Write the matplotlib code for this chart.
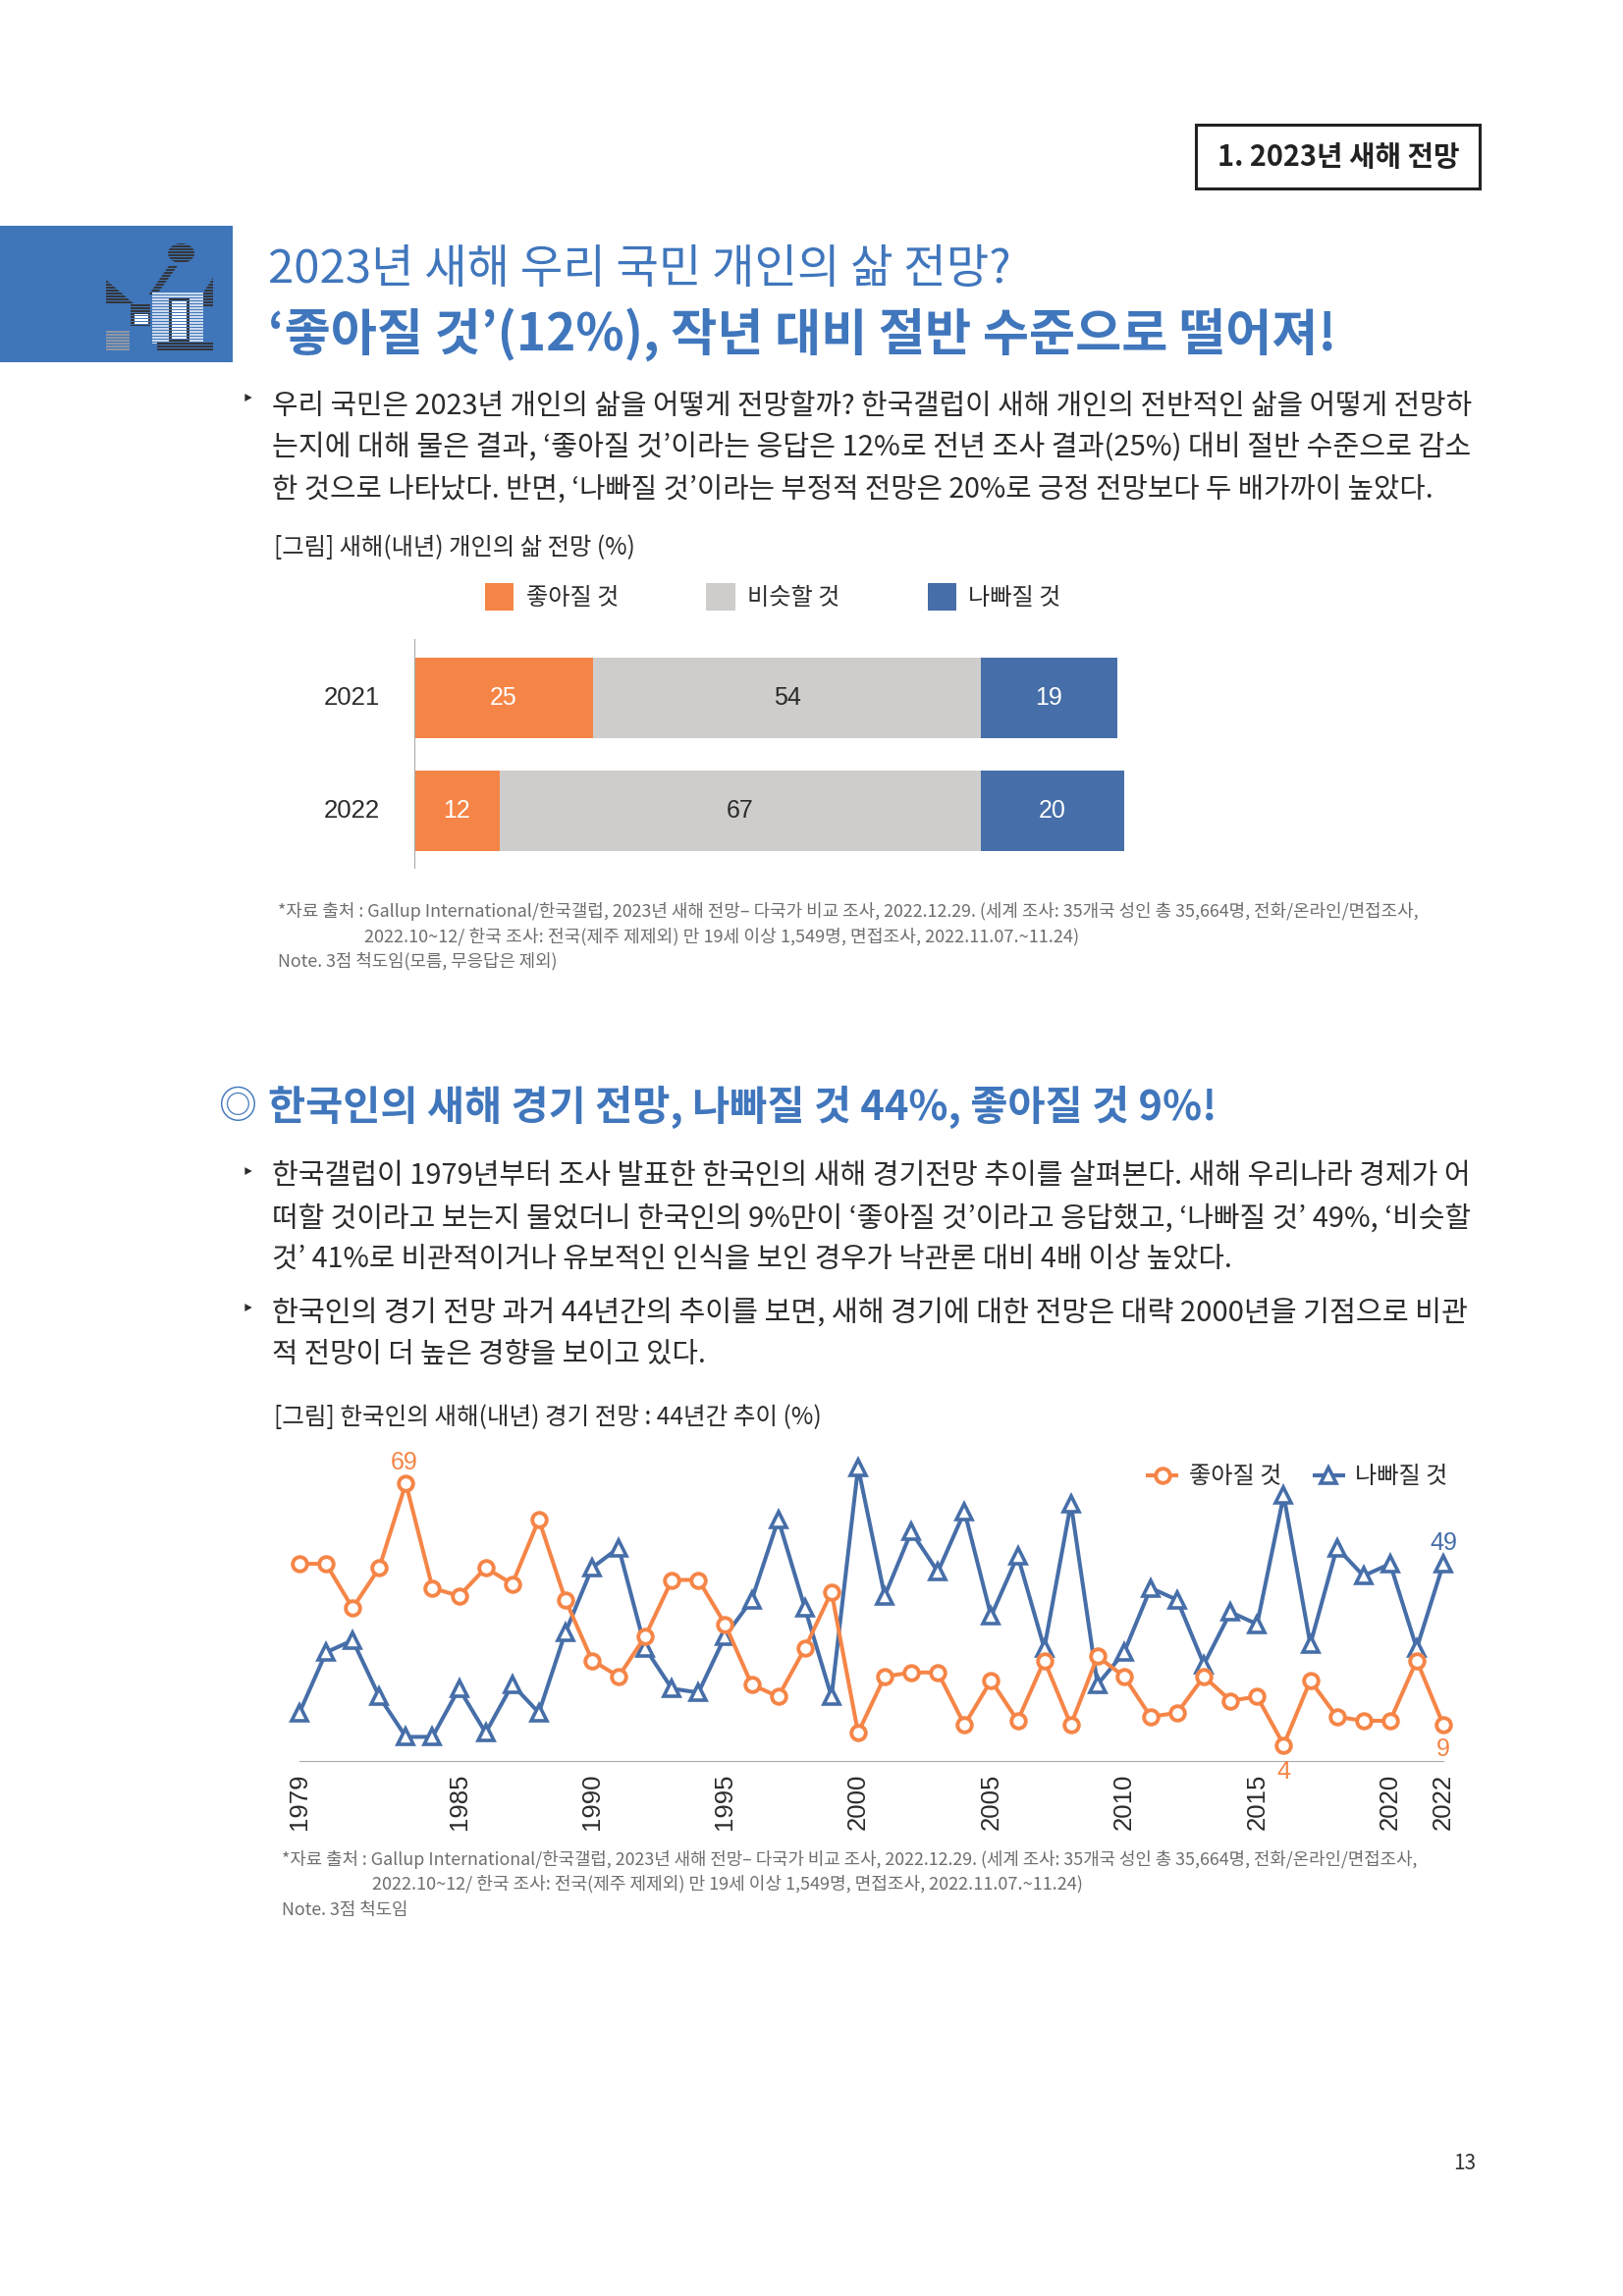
import matplotlib
matplotlib.use("Agg")
import matplotlib.pyplot as plt
from matplotlib.patches import Rectangle, Polygon, Ellipse

plt.rcParams['font.family'] = ['Noto Sans CJK KR', 'DejaVu Sans']

W, H = 1653, 2339

# bar chart data
bar_years = ['2021', '2022']
good = [25, 12]
same = [54, 67]
bad = [19, 20]
bar_labels = ['좋아질 것', '비슷할 것', '나빠질 것']

# line chart data
years = list(range(1979, 2023))
good_line = [49, 49, 38, 48, 69, 43, 41, 48, 44, 60, 40, 25, 21, 31, 45, 45, 34, 19, 16, 28, 42, 7,
             21, 22, 22, 9, 20, 10, 25, 9, 26, 21, 11, 12, 21, 15, 16, 4, 20, 11, 10, 10, 25, 9]
bad_line = [12, 27, 30, 16, 6, 6, 18, 7, 19, 12, 32, 48, 53, 28, 18, 17, 31, 40, 60, 38, 16, 73,
            41, 57, 47, 62, 36, 51, 28, 64, 19, 27, 43, 40, 24, 37, 34, 66, 29, 53, 46, 49, 28, 49]
year_ticks = [1979, 1985, 1990, 1995, 2000, 2005, 2010, 2015, 2020, 2022]

ORANGE = '#F58547'
GRAY = '#CECDCB'
BLUE = '#466EA8'
TITLE = '#4076BC'
TEXT = '#2B2B2B'
NOTE = '#6E6E6E'

fig = plt.figure(figsize=(W / 100, H / 100), dpi=100)
page = fig.add_axes([0, 0, 1, 1])
page.set_xlim(0, W / 0.9975)
page.set_ylim(H, 0)
page.axis('off')
renderer = fig.canvas.get_renderer()


def fit(x0, x1, y, s, color=TEXT, weight='light', size=20):
    # size the line so that it runs from x0 to x1 on the page
    t = page.text(x0, y, s, color=color, fontweight=weight, fontsize=size, va='center', ha='left')
    w = t.get_window_extent(renderer).width
    t.set_fontsize(size * 0.9975 * (x1 - x0) / w)
    return t


def axes_px(left, top, right, bottom):
    return fig.add_axes([left / W, 1 - bottom / H, (right - left) / W, (bottom - top) / H], facecolor='none')


# header
page.add_patch(Rectangle((1221, 127), 290, 65, fc='white', ec='#222222', lw=2.2))
fit(1243, 1490, 160, '1. 2023년 새해 전망', color='#222222', weight='bold')

# blue block with icon
page.add_patch(Rectangle((0, 230), 238, 139, fc='#3F75B9', ec='none'))
dark = '#33363C'
page.add_patch(Ellipse((185, 258), 27, 20, fc=dark, ec='none'))
page.add_patch(Polygon([(173, 270), (182, 270), (160, 300), (152, 300)], fc=dark, ec='none'))
page.add_patch(Polygon([(108, 285), (108, 310), (137, 310)], fc=dark, ec='none'))
page.add_patch(Polygon([(218, 283), (218, 313), (208, 313), (208, 298)], fc=dark, ec='none'))
page.add_patch(Rectangle((155, 298), 53, 52, fc='#C9D9EE', ec='none'))
page.add_patch(Rectangle((172, 303), 21, 45, fc=dark, ec='none'))
page.add_patch(Rectangle((175, 307), 15, 38, fc='white', ec='none'))
page.add_patch(Rectangle((133, 310), 20, 22, fc=dark, ec='none'))
page.add_patch(Rectangle((137, 320), 14, 10, fc='white', ec='none'))
page.add_patch(Rectangle((108, 337), 24, 20, fc='#8F97A5', ec='none'))
page.add_patch(Rectangle((160, 348), 58, 9, fc=dark, ec='none'))
for sy in range(240, 360, 3):
    page.plot([100, 225], [sy, sy], color='#3F75B9', lw=0.7)

# titles
fit(274, 1032, 275, '2023년 새해 우리 국민 개인의 삶 전망?', color=TITLE)
fit(274, 1362, 340.5, '‘좋아질 것’(12%), 작년 대비 절반 수준으로 떨어져!', color=TITLE, weight='bold')

# first paragraph
page.text(253, 407, '‣', fontsize=16, color=TEXT, ha='center', va='center', family=['DejaVu Sans'])
fit(278, 1502, 413.5, '우리 국민은 2023년 개인의 삶을 어떻게 전망할까? 한국갤럽이 새해 개인의 전반적인 삶을 어떻게 전망하')
fit(278, 1501, 456.5, '는지에 대해 물은 결과, ‘좋아질 것’이라는 응답은 12%로 전년 조사 결과(25%) 대비 절반 수준으로 감소')
fit(278, 1461, 499.5, '한 것으로 나타났다. 반면, ‘나빠질 것’이라는 부정적 전망은 20%로 긍정 전망보다 두 배가까이 높았다.')

fit(280, 648, 558, '[그림] 새해(내년) 개인의 삶 전망 (%)')

# bar chart
ax = axes_px(421.5, 651, 1200, 884)
ax.set_xlim(0, (1200 - 421.5) / 7.31)
ax.set_ylim(1.506, -0.519)
ypos = range(len(bar_years))
left2 = [a + b for a, b in zip(good, same)]
h1 = ax.barh(ypos, good, height=0.71, color=ORANGE, label=bar_labels[0])
h2 = ax.barh(ypos, same, left=good, height=0.71, color=GRAY, label=bar_labels[1])
h3 = ax.barh(ypos, bad, left=left2, height=0.71, color=BLUE, label=bar_labels[2])
for i in ypos:
    ax.text(good[i] / 2, i, str(good[i]), color='white', ha='center', va='center', fontsize=18, family=['Liberation Sans'])
    ax.text(good[i] + same[i] / 2, i, str(same[i]), color=TEXT, ha='center', va='center', fontsize=18, family=['Liberation Sans'])
    ax.text(left2[i] + bad[i] / 2, i, str(bad[i]), color='white', ha='center', va='center', fontsize=18, family=['Liberation Sans'])
for s in ['top', 'right', 'bottom']:
    ax.spines[s].set_visible(False)
ax.spines['left'].set_color('#AAAAAA')
ax.set_xticks([])
ax.set_yticks(list(ypos))
ax.set_yticklabels(bar_years, fontsize=18.5, color=TEXT, family=['Liberation Sans'], va='center')
ax.tick_params(axis='y', length=0, pad=25)
ax.legend(handles=[h1, h2, h3], ncol=3, loc='center left', bbox_to_anchor=(494 / W, 1 - 608 / H),
          bbox_transform=fig.transFigure, frameon=False, fontsize=17.4, borderpad=0, borderaxespad=0,
          handlelength=1.22, handleheight=1.46, handletextpad=0.5, columnspacing=3.7, labelcolor=TEXT)

# first source note
fit(284, 1447, 928.5, '*자료 출처 : Gallup International/한국갤럽, 2023년 새해 전망– 다국가 비교 조사, 2022.12.29. (세계 조사: 35개국 성인 총 35,664명, 전화/온라인/면접조사,', color=NOTE)
fit(372, 1100, 954.5, '2022.10~12/ 한국 조사: 전국(제주 제제외) 만 19세 이상 1,549명, 면접조사, 2022.11.07.~11.24)', color=NOTE)
fit(284, 570, 979.5, 'Note. 3점 척도임(모름, 무응답은 제외)', color=NOTE)

# second heading
fit(223, 262, 1128, '◎', color=TITLE)
fit(274, 1242, 1128, '한국인의 새해 경기 전망, 나빠질 것 44%, 좋아질 것 9%!', color=TITLE, weight='bold')

# second and third paragraph
page.text(253, 1195, '‣', fontsize=16, color=TEXT, ha='center', va='center', family=['DejaVu Sans'])
fit(278, 1501, 1198.5, '한국갤럽이 1979년부터 조사 발표한 한국인의 새해 경기전망 추이를 살펴본다. 새해 우리나라 경제가 어')
fit(278, 1501, 1241.5, '떠할 것이라고 보는지 물었더니 한국인의 9%만이 ‘좋아질 것’이라고 응답했고, ‘나빠질 것’ 49%, ‘비슷할')
fit(278, 1257, 1283.5, '것’ 41%로 비관적이거나 유보적인 인식을 보인 경우가 낙관론 대비 4배 이상 높았다.')
page.text(253, 1334, '‣', fontsize=16, color=TEXT, ha='center', va='center', family=['DejaVu Sans'])
fit(278, 1501, 1337.5, '한국인의 경기 전망 과거 44년간의 추이를 보면, 새해 경기에 대한 전망은 대략 2000년을 기점으로 비관')
fit(278, 721, 1379.5, '적 전망이 더 높은 경향을 보이고 있다.')

fit(280, 838, 1444, '[그림] 한국인의 새해(내년) 경기 전망 : 44년간 추이 (%)')

# line chart
ax2 = axes_px(305, 1474, 1470, 1794)
ax2.set_xlim(1979, 2022)
ax2.set_ylim(0, 320 / 4.1)
l1, = ax2.plot(years, good_line, color=ORANGE, lw=2.9, marker='o', ms=10.5, mfc='white', mec=ORANGE, mew=2.8,
               clip_on=False, zorder=3, label='좋아질 것')
l2, = ax2.plot(years, bad_line, color=BLUE, lw=2.9, marker='^', ms=11.5, mfc='white', mec=BLUE, mew=2.6,
               clip_on=False, zorder=2, label='나빠질 것')
for s in ['top', 'right', 'left']:
    ax2.spines[s].set_visible(False)
ax2.spines['bottom'].set_color('#AAAAAA')
ax2.set_yticks([])
ax2.set_xticks(year_ticks)
ax2.set_xticklabels(year_ticks, rotation=90, fontsize=18.5, color=TEXT, family=['Liberation Sans'])
ax2.tick_params(axis='x', length=0, pad=9)
ax2.annotate('69', (1983, 69), xytext=(-1, 10), textcoords='offset points', color=ORANGE, ha='center', fontsize=18, family=['Liberation Sans'])
ax2.annotate('49', (2022, 49), xytext=(0, 10), textcoords='offset points', color=BLUE, ha='center', fontsize=18, family=['Liberation Sans'])
ax2.annotate('4', (2016, 4), xytext=(0, -11), textcoords='offset points', color=ORANGE, ha='center', va='top', fontsize=18, family=['Liberation Sans'])
ax2.annotate('9', (2022, 9), xytext=(0, -9), textcoords='offset points', color=ORANGE, ha='center', va='top', fontsize=18, family=['Liberation Sans'])
ax2.legend(handles=[l1, l2], ncol=2, loc='center right', bbox_to_anchor=(1474 / W, 1 - 1504 / H),
           bbox_transform=fig.transFigure, frameon=False, fontsize=17.4, borderpad=0, borderaxespad=0,
           handlelength=1.2, handletextpad=0.5, columnspacing=1.39, labelcolor=TEXT)

# second source note
fit(288, 1449, 1894.5, '*자료 출처 : Gallup International/한국갤럽, 2023년 새해 전망– 다국가 비교 조사, 2022.12.29. (세계 조사: 35개국 성인 총 35,664명, 전화/온라인/면접조사,', color=NOTE)
fit(380, 1107.6, 1919.5, '2022.10~12/ 한국 조사: 전국(제주 제제외) 만 19세 이상 1,549명, 면접조사, 2022.11.07.~11.24)', color=NOTE)
fit(288, 417, 1945.5, 'Note. 3점 척도임', color=NOTE)

# page number
fit(1484, 1507, 2203.5, '13', color='#333333')

fig.savefig('out.png', dpi=100)
